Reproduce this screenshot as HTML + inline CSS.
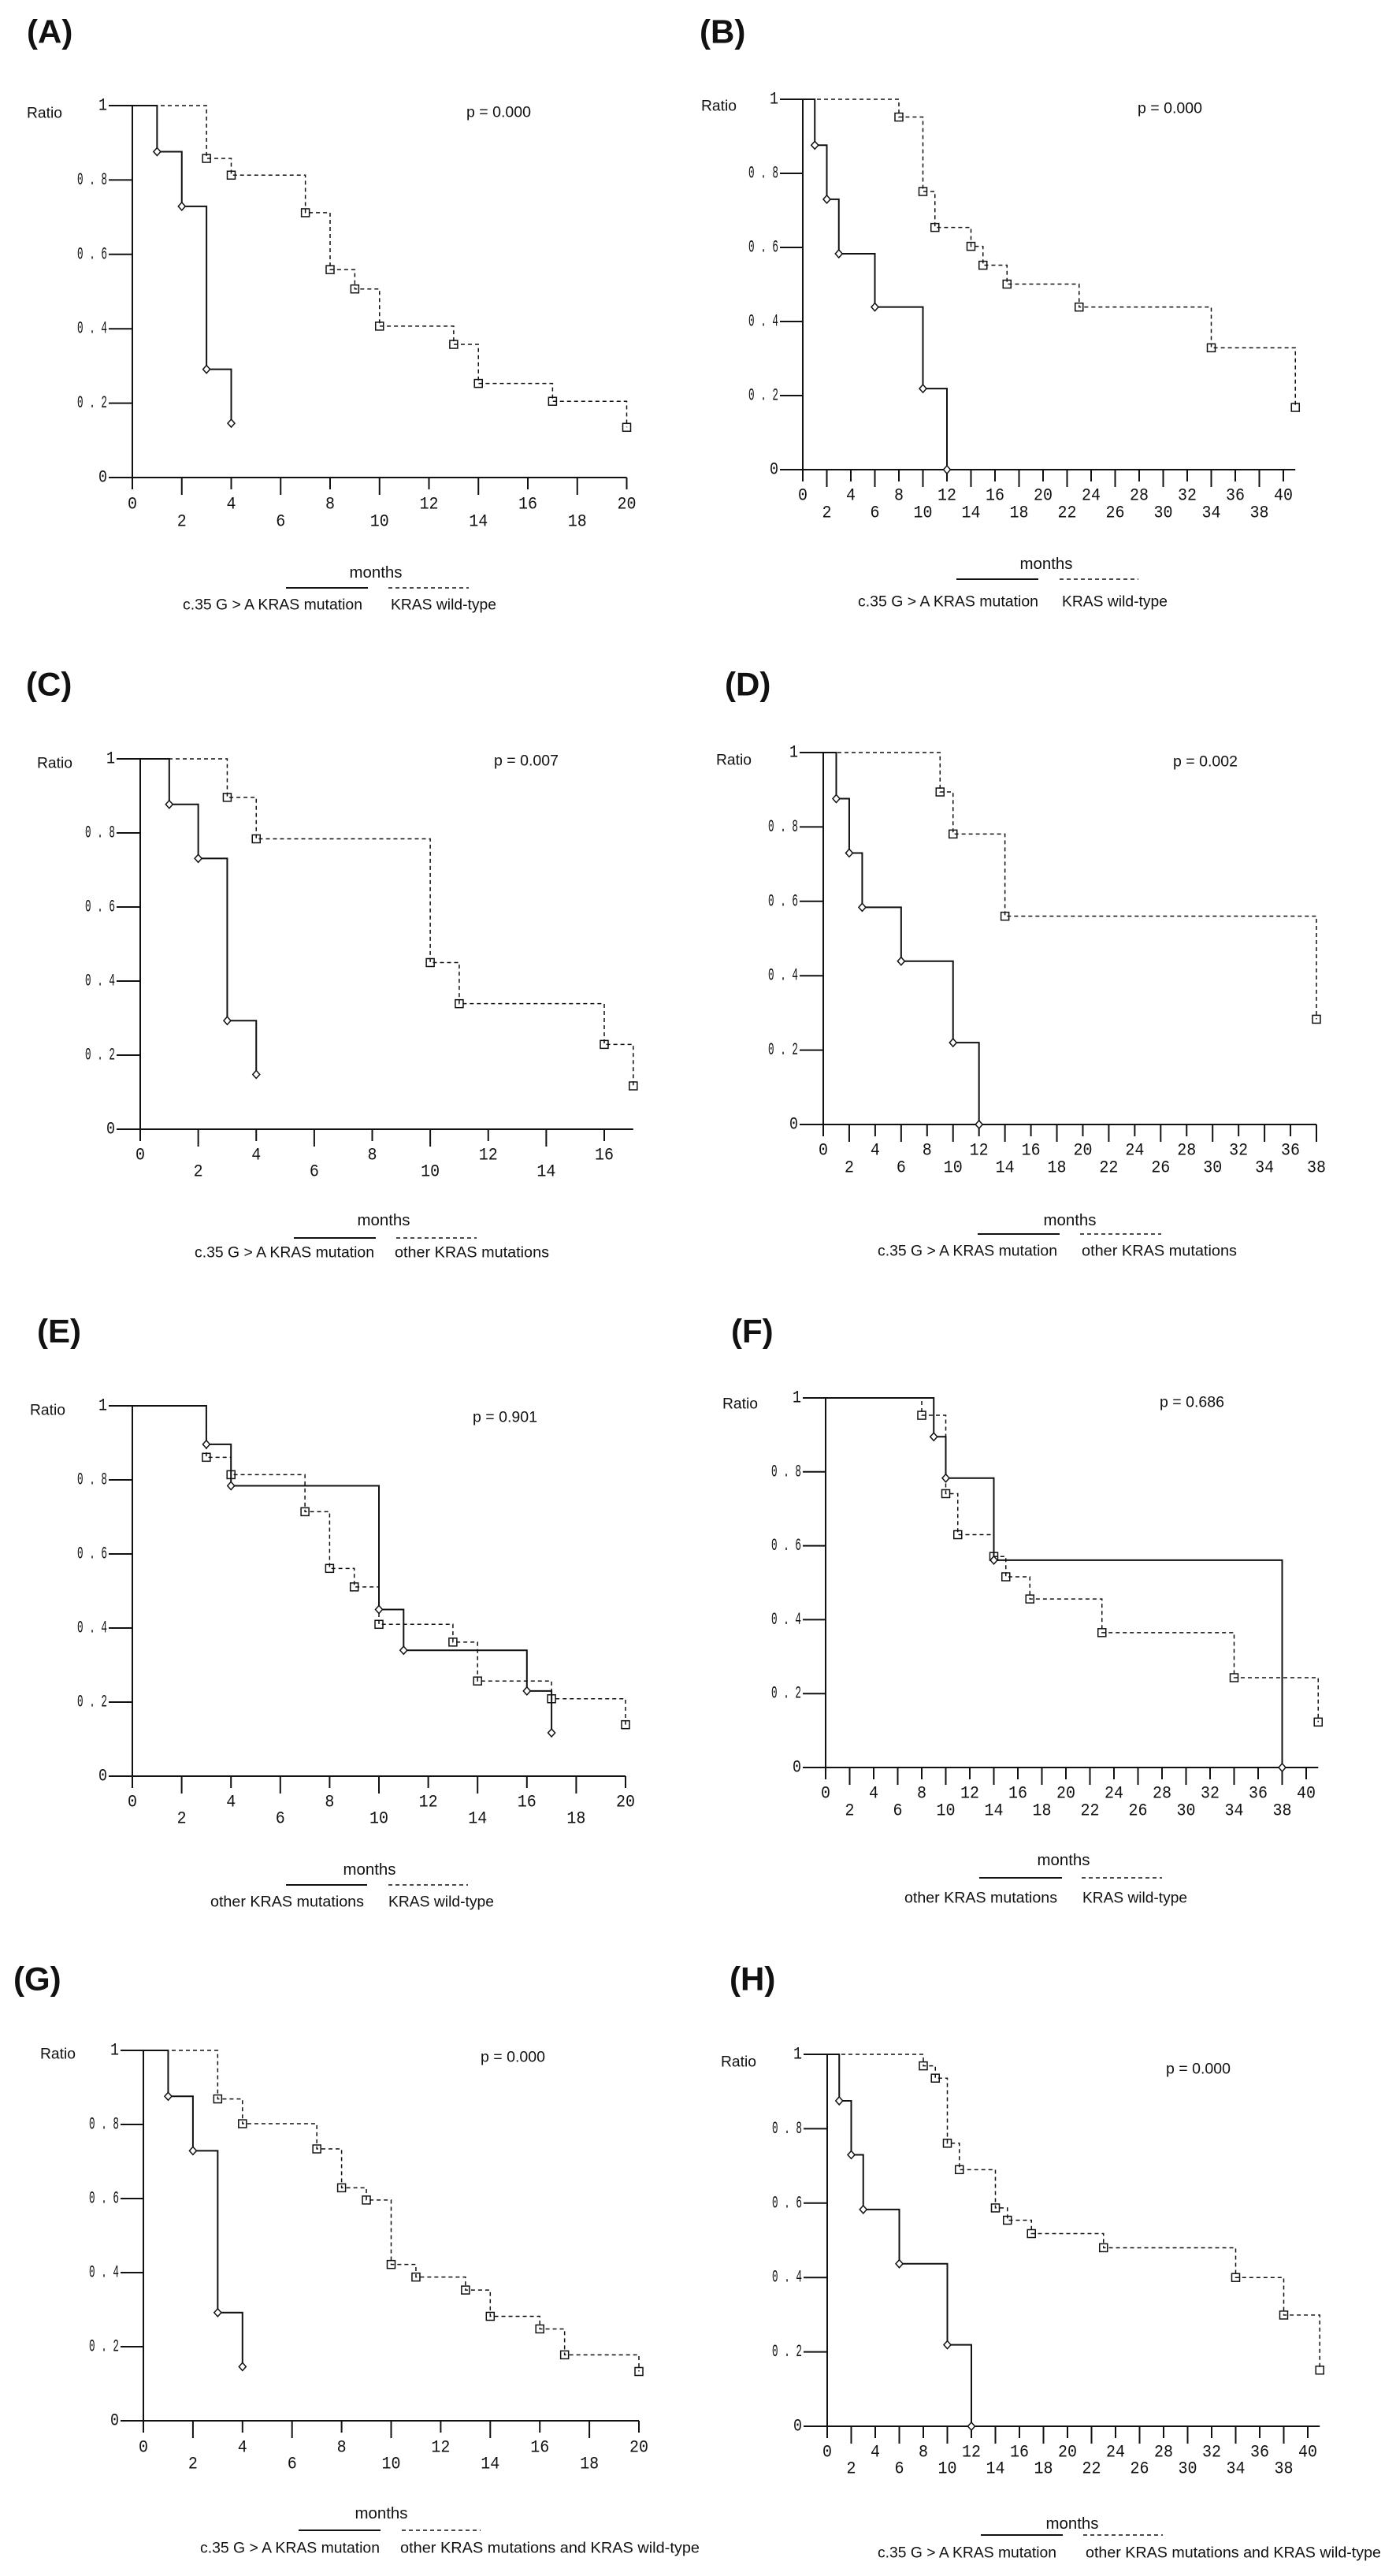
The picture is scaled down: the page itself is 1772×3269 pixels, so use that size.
<!DOCTYPE html>
<html><head><meta charset="utf-8"><title>Kaplan-Meier curves</title>
<style>
html,body{margin:0;padding:0;background:#fff;}
svg{display:block;}
text{fill:#111;}
.sans{font-family:"Liberation Sans",Arial,sans-serif;}
.mono{font-family:"Liberation Mono","DejaVu Sans Mono",monospace;}
.bold{font-weight:bold;}
</style></head>
<body>
<svg id="fig" xmlns="http://www.w3.org/2000/svg" width="1772" height="3269" viewBox="0 0 1772 3269"></svg>
<script>
// ---------- data ----------
const yTicks = [0, 0.2, 0.4, 0.6, 0.8, 1];
const yTickLabels = ['0', '0 . 2', '0 . 4', '0 . 6', '0 . 8', '1'];
const xTicks20 = [0,2,4,6,8,10,12,14,16,18,20];
const xTicks16 = [0,2,4,6,8,10,12,14,16];
const xTicks38 = [0,2,4,6,8,10,12,14,16,18,20,22,24,26,28,30,32,34,36,38];
const xTicks40 = [0,2,4,6,8,10,12,14,16,18,20,22,24,26,28,30,32,34,36,38,40];
const pValues = ['p = 0.000','p = 0.000','p = 0.007','p = 0.002','p = 0.901','p = 0.686','p = 0.000','p = 0.000'];

const aSolidT = [1,2,3,4];
const aSolidS = [0.876,0.729,0.291,0.146];
const aDashT = [3,4,7,8,9,10,13,14,17,20];
const aDashS = [0.858,0.813,0.712,0.559,0.507,0.407,0.358,0.253,0.205,0.135];

const bSolidT = [1,2,3,6,10,12];
const bSolidS = [0.876,0.73,0.583,0.439,0.219,0];
const bDashT = [8,10,11,14,15,17,23,34,41];
const bDashS = [0.952,0.751,0.654,0.603,0.552,0.501,0.439,0.329,0.168];

const cSolidT = [1,2,3,4];
const cSolidS = [0.877,0.731,0.293,0.148];
const cDashT = [3,4,10,11,16,17];
const cDashS = [0.896,0.784,0.45,0.339,0.229,0.117];

const dSolidT = [1,2,3,6,10,12];
const dSolidS = [0.876,0.73,0.584,0.439,0.22,0];
const dDashT = [9,10,14,38];
const dDashS = [0.894,0.781,0.56,0.283];

const eSolidT = [3,4,10,11,16,17];
const eSolidS = [0.896,0.784,0.45,0.34,0.23,0.117];
const eDashT = [3,4,7,8,9,10,13,14,17,20];
const eDashS = [0.861,0.814,0.714,0.561,0.511,0.41,0.362,0.257,0.209,0.139];

const fSolidT = [9,10,14,38];
const fSolidS = [0.895,0.783,0.561,0];
const fDashT = [8,10,11,14,15,17,23,34,41];
const fDashS = [0.953,0.741,0.63,0.571,0.516,0.456,0.365,0.243,0.123];

const gSolidT = [1,2,3,4];
const gSolidS = [0.876,0.729,0.292,0.146];
const gDashT = [3,4,7,8,9,10,11,13,14,16,17,20];
const gDashS = [0.869,0.802,0.734,0.629,0.596,0.422,0.388,0.353,0.282,0.248,0.178,0.133];

const hSolidT = [1,2,3,6,10,12];
const hSolidS = [0.875,0.73,0.583,0.437,0.219,0];
const hDashT = [8,9,10,11,14,15,17,23,34,38,41];
const hDashS = [0.969,0.936,0.761,0.69,0.587,0.554,0.518,0.48,0.4,0.299,0.151];

// ---------- layout ----------
const L1 = 'c.35 G > A KRAS mutation', WT = 'KRAS wild-type', OT = 'other KRAS mutations', OW = 'other KRAS mutations and KRAS wild-type';
const panels = [
 {id:'a',tag:'(A)',lx:34,ly:40,ox:168,xr:795.5,xm:20,ae:20,yt:134,yb:606,tl:138,rx:34,ry:144,px:592,py:143,r1:640,r2:662,mx:477,my:727,ll:746,s1:363,s2:467,d1:493,d2:595,ty:768,l1:232,l2:460,q1:496,q2:630,ticks:xTicks20,st:aSolidT,ss:aSolidS,dt:aDashT,ds:aDashS,a:L1,b:WT},
 {id:'b',tag:'(B)',lx:888,ly:40,ox:1019,xr:1629,xm:40,ae:41,yt:126,yb:596,tl:990,rx:890,ry:135,px:1444,py:138,r1:629,r2:651,mx:1328,my:716,ll:735,s1:1214,s2:1318,d1:1345,d2:1445,ty:764,l1:1089,l2:1318,q1:1348,q2:1482,ticks:xTicks40,st:bSolidT,ss:bSolidS,dt:bDashT,ds:bDashS,a:L1,b:WT},
 {id:'c',tag:'(C)',lx:33,ly:868,ox:178,xr:767,xm:16,ae:17,yt:963,yb:1433,tl:148,rx:47,ry:969,px:627,py:966,r1:1466,r2:1487,mx:487,my:1549,ll:1571,s1:373,s2:477,d1:503,d2:605,ty:1590,l1:247,l2:475,q1:501,q2:697,ticks:xTicks16,st:cSolidT,ss:cSolidS,dt:cDashT,ds:cDashS,a:L1,b:OT},
 {id:'d',tag:'(D)',lx:920,ly:868,ox:1045,xr:1671,xm:38,ae:38,yt:955,yb:1427,tl:1015,rx:909,ry:965,px:1489,py:967,r1:1460,r2:1482,mx:1358,my:1549,ll:1566,s1:1241,s2:1345,d1:1371,d2:1474,ty:1588,l1:1114,l2:1342,q1:1373,q2:1570,ticks:xTicks38,st:dSolidT,ss:dSolidS,dt:dDashT,ds:dDashS,a:L1,b:OT},
 {id:'e',tag:'(E)',lx:47,ly:1689,ox:168,xr:794,xm:20,ae:20,yt:1784,yb:2254,tl:138,rx:38,ry:1790,px:600,py:1799,r1:2287,r2:2308,mx:469,my:2373,ll:2392,s1:363,s2:466,d1:493,d2:594,ty:2414,l1:267,l2:462,q1:493,q2:627,ticks:xTicks20,st:eSolidT,ss:eSolidS,dt:eDashT,ds:eDashS,a:OT,b:WT},
 {id:'f',tag:'(F)',lx:928,ly:1689,ox:1048,xr:1658,xm:40,ae:41,yt:1774,yb:2243,tl:1019,rx:917,ry:1782,px:1472,py:1780,r1:2276,r2:2298,mx:1350,my:2361,ll:2383,s1:1243,s2:1348,d1:1373,d2:1475,ty:2409,l1:1148,l2:1342,q1:1374,q2:1507,ticks:xTicks40,st:fSolidT,ss:fSolidS,dt:fDashT,ds:fDashS,a:OT,b:WT},
 {id:'g',tag:'(G)',lx:17,ly:2511,ox:182,xr:811,xm:20,ae:20,yt:2602,yb:3072,tl:153,rx:51,ry:2607,px:610,py:2611,r1:3106,r2:3127,mx:484,my:3190,ll:3211,s1:379,s2:483,d1:510,d2:610,ty:3234,l1:254,l2:482,q1:508,q2:888,ticks:xTicks20,st:gSolidT,ss:gSolidS,dt:gDashT,ds:gDashS,a:L1,b:OW},
 {id:'h',tag:'(H)',lx:926,ly:2511,ox:1050,xr:1660,xm:40,ae:41,yt:2607,yb:3079,tl:1020,rx:915,ry:2617,px:1480,py:2626,r1:3112,r2:3133,mx:1361,my:3203,ll:3217,s1:1245,s2:1349,d1:1375,d2:1476,ty:3240,l1:1114,l2:1341,q1:1378,q2:1753,ticks:xTicks40,st:hSolidT,ss:hSolidS,dt:hDashT,ds:hDashS,a:L1,b:OW}
];

const NS = 'http://www.w3.org/2000/svg';
const svg = document.getElementById('fig');
function el(parent, tag, attrs) {
  const e = document.createElementNS(NS, tag);
  for (const k in attrs) e.setAttribute(k, attrs[k]);
  parent.appendChild(e);
  return e;
}
function txt(parent, s, x, y, cls, size, anchor, len) {
  const a = {x:x, y:y, class:cls, 'font-size':size, 'text-anchor':anchor||'start', 'dominant-baseline':'central'};
  if (len) { a.textLength = len; a.lengthAdjust = 'spacingAndGlyphs'; }
  const t = el(parent, 'text', a);
  t.textContent = s;
  return t;
}

panels.forEach(function(p, pi) {
  const xs = function(v){ return p.ox + v * (p.xr - p.ox) / p.xm; };
  const ys = function(v){ return p.yb - v * (p.yb - p.yt); };
  const g = el(svg, 'g', {});
  
  

  const lab = txt(g, p.tag, p.lx, p.ly, 'sans bold', 42, 'start');
  
  

  const rt = txt(g, 'Ratio', p.rx, p.ry, 'sans', 19, 'start', 45);
  
  

  const pv = txt(g, pValues[pi], p.px, p.py, 'sans', 19, 'start', 82);
  
  

  const ya = el(g, 'line', {x1:p.ox, y1:p.yt, x2:p.ox, y2:p.yb, stroke:'#111', 'stroke-width':2});
  
  
  const xa = el(g, 'line', {x1:p.tl, y1:p.yb, x2:xs(p.ae), y2:p.yb, stroke:'#111', 'stroke-width':2});
  
  

  yTicks.forEach(function(v, i) {
    const tk = el(g, 'line', {x1:p.tl, y1:ys(v), x2:p.ox, y2:ys(v), stroke:'#111', 'stroke-width':2});
    
    
    const s = yTickLabels[i];
    const tl = txt(g, s, p.tl - 2, ys(v), 'mono', 22, 'end', s.length > 1 ? 38 : 11);
    
    
  });

  p.ticks.forEach(function(v, i) {
    const odd = i % 2 === 1;
    const tk = el(g, 'line', {x1:xs(v), y1:p.yb, x2:xs(v), y2:p.yb + (odd ? 22 : 15), stroke:'#111', 'stroke-width':2});
    
    
    const s = String(v);
    const tl = txt(g, s, xs(v), odd ? p.r2 : p.r1, 'mono', 22, 'middle', s.length > 1 ? 24 : 12);
    
    
  });

  function curve(T, S, dashed) {
    let d = 'M' + xs(0) + ' ' + ys(1);
    for (let i = 0; i < T.length; i++) d += ' H' + xs(T[i]) + ' V' + ys(S[i]);
    const c = el(g, 'path', {d:d, fill:'none', stroke:'#111', 'stroke-width':dashed ? 1.5 : 2, 'stroke-dasharray':dashed ? '5 4' : 'none'});
    
    
    for (let i = 0; i < T.length; i++) {
      const cx = xs(T[i]), cy = ys(S[i]);
      let m;
      if (dashed) {
        m = el(g, 'rect', {x:cx - 5, y:cy - 5, width:10, height:10, fill:'none', stroke:'#111', 'stroke-width':1.5});
      } else {
        m = el(g, 'path', {d:'M' + (cx - 4.5) + ' ' + cy + ' L' + cx + ' ' + (cy - 5) + ' L' + (cx + 4.5) + ' ' + cy + ' L' + cx + ' ' + (cy + 5) + ' Z', fill:'#fff', stroke:'#111', 'stroke-width':1.5});
      }
      
      
    }
  }
  curve(p.dt, p.ds, true);
  curve(p.st, p.ss, false);

  const mt = txt(g, 'months', p.mx, p.my, 'sans', 20, 'middle', 67);
  
  
  const ls = el(g, 'line', {x1:p.s1, y1:p.ll, x2:p.s2, y2:p.ll, stroke:'#111', 'stroke-width':2});
  
  
  const ld = el(g, 'line', {x1:p.d1, y1:p.ll, x2:p.d2, y2:p.ll, stroke:'#111', 'stroke-width':1.5, 'stroke-dasharray':'5 4'});
  
  
  const la = txt(g, p.a, p.l1, p.ty, 'sans', 19, 'start', p.l2 - p.l1);
  
  
  const lb = txt(g, p.b, p.q1, p.ty, 'sans', 19, 'start', p.q2 - p.q1);
  
  
});
</script>
</body></html>
